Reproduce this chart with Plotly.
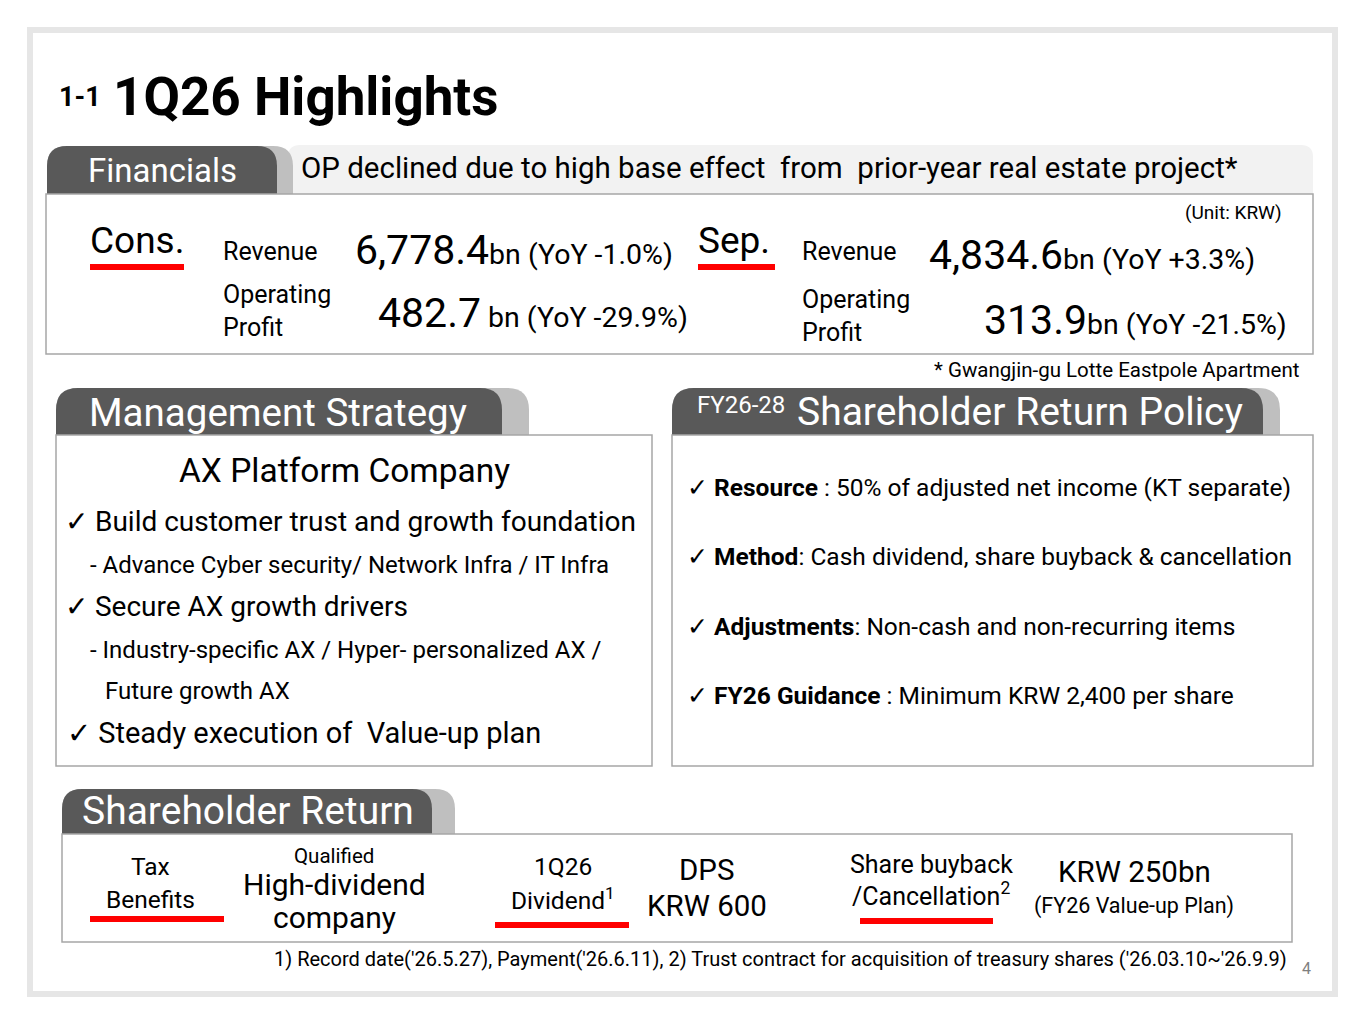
import plotly.graph_objects as go

# ---------------- data ----------------
segments = ["Cons.", "Sep."]
revenue_bn = [6778.4, 4834.6]
revenue_yoy = [-1.0, 3.3]
op_bn = [482.7, 313.9]
op_yoy = [-29.9, -21.5]
payout_pct = 50
guidance_krw = 2400
dps_krw = 600
buyback_bn = 250

strategy_items = ["Build customer trust and growth foundation",
                  "Secure AX growth drivers",
                  "Steady execution of  Value-up plan"]
policy_labels = ["Resource", "Method", "Adjustments", "FY26 Guidance"]
policy_texts = [f"{payout_pct}% of adjusted net income (KT separate)",
                "Cash dividend, share buyback & cancellation",
                "Non-cash and non-recurring items",
                f"Minimum KRW {guidance_krw:,} per share"]

FONT = "Roboto"
DARK = "#595959"
LIGHT = "#bfbfbf"
BANNER = "#f2f2f2"
BORDER = "#a6a6a6"
RED = "#ff0000"

fig = go.Figure()
fig.add_trace(go.Scatter(x=[], y=[], showlegend=False))

shapes = []
ann = []


def rect(x0, y0, x1, y1, fill=None, line=None, lw=1.5):
    shapes.append(dict(type="rect", xref="x", yref="y", x0=x0, x1=x1, y0=y0, y1=y1,
                       fillcolor=fill if fill else "rgba(0,0,0,0)",
                       line=dict(color=line if line else "rgba(0,0,0,0)", width=lw if line else 0),
                       layer="below"))


def tab(x0, x1, y0, y1, r, color):
    p = (f"M{x0},{y1} L{x0},{y0 + r} Q{x0},{y0} {x0 + r},{y0} L{x1 - r},{y0} "
         f"Q{x1},{y0} {x1},{y0 + r} L{x1},{y1} Z")
    shapes.append(dict(type="path", xref="x", yref="y", path=p, fillcolor=color,
                       line=dict(width=0), layer="below"))


def txt(x, y, s, size, anchor="left", color="#000000", family=FONT):
    ann.append(dict(x=x, y=y, xref="x", yref="y", text=s, showarrow=False,
                    xanchor=anchor, yanchor="middle", align=anchor if anchor != "center" else "center",
                    font=dict(size=size, color=color, family=family)))


# outer frame
shapes.append(dict(type="rect", xref="x", yref="y", x0=30, x1=1335, y0=30, y1=994,
                   line=dict(color="#e6e6e6", width=6), fillcolor="white", layer="below"))

# title
txt(57, 97, "<b>1-1</b>", 27)
txt(111, 97, "<b>1Q26 Highlights</b>", 53)

# ---------------- Financials ----------------
tab(288, 1313, 145, 194, 12, BANNER)
tab(47, 293, 146, 194, 20, LIGHT)
tab(47, 277, 146, 194, 20, DARK)
rect(46, 194, 1313, 354, fill="white", line=BORDER)
txt(162, 170, "Financials", 33, anchor="center", color="white")
txt(299, 168, "OP declined due to high base effect  from  prior-year real estate project*", 29.5)
txt(1284, 212, "(Unit: KRW)", 19, anchor="right")

# segment blocks
seg_x = [88, 696]
lab_x = [221, 800]
for i, seg in enumerate(segments):
    txt(seg_x[i], 240, seg, 37)
    shapes.append(dict(type="rect", xref="x", yref="y", x0=seg_x[i] + 2, x1=seg_x[i] + 96 - 17 * i,
                       y0=264, y1=270, fillcolor=RED, line=dict(width=0)))
    txt(lab_x[i], 251, "Revenue", 25)
    txt(lab_x[i], 311 + 5 * i, "Operating<br>Profit", 25)

rev0 = f"<span style='font-size:41px'>{revenue_bn[0]:,.1f}</span>bn (YoY {revenue_yoy[0]:.1f}%)"
rev1 = f"<span style='font-size:41px'>{revenue_bn[1]:,.1f}</span>bn (YoY {revenue_yoy[1]:+.1f}%)"
op0 = f"<span style='font-size:41px'>{op_bn[0]:,.1f}</span> bn (YoY {op_yoy[0]:.1f}%)"
op1 = f"<span style='font-size:41px'>{op_bn[1]:,.1f}</span>bn (YoY {op_yoy[1]:.1f}%)"
txt(353, 250, rev0, 28.5)
txt(927, 255, rev1, 28.5)
txt(376, 313, op0, 28.5)
txt(1289, 320, op1, 28.5, anchor="right")
txt(1301, 370, "* Gwangjin-gu Lotte Eastpole Apartment", 20.5, anchor="right")

# ---------------- Management Strategy ----------------
tab(56, 529, 388, 435, 22, LIGHT)
tab(56, 502, 388, 435, 22, DARK)
rect(56, 435, 652, 766, fill="white", line=BORDER)
txt(87, 412, "Management Strategy", 38.5, color="white")
txt(344, 470, "AX Platform Company", 33.5, anchor="center")
txt(63, 521, "✓ " + strategy_items[0], 28)
txt(88, 565, "- Advance Cyber security/ Network Infra / IT Infra", 24)
txt(63, 606, "✓ " + strategy_items[1], 28)
txt(88, 650, "- Industry-specific AX / Hyper- personalized AX /", 24)
txt(103, 691, "Future growth AX", 24)
txt(65, 733, "✓ " + strategy_items[2], 29)

# ---------------- Shareholder Return Policy ----------------
tab(672, 1280, 388, 435, 22, LIGHT)
tab(672, 1263, 388, 435, 22, DARK)
rect(672, 435, 1313, 766, fill="white", line=BORDER)
txt(695, 405, "FY26-28", 24, color="white")
txt(795, 412, "Shareholder Return Policy", 39, color="white")
policy_y = [487, 556, 626, 695]
for lab, t, y in zip(policy_labels, policy_texts, policy_y):
    sep = " : " if lab in ("Resource", "FY26 Guidance") else ": "
    txt(685, y, f"✓ <b>{lab}</b>{sep}{t}", 24.5)

# ---------------- Shareholder Return ----------------
tab(62, 455, 789, 834, 20, LIGHT)
tab(62, 432, 789, 834, 20, DARK)
rect(62, 834, 1292, 942, fill="white", line=BORDER)
txt(80, 811, "Shareholder Return", 39, color="white")

txt(150, 866, "Tax", 24.5, anchor="center")
txt(150, 899, "Benefits", 24.5, anchor="center")
txt(334, 856, "Qualified", 20.5, anchor="center")
txt(334, 884, "High-dividend", 30, anchor="center")
txt(334, 917, "company", 30, anchor="center")
txt(563, 866, "1Q26", 24.5, anchor="center")
txt(563, 899, "Dividend<sup>1</sup>", 24.5, anchor="center")
txt(707, 870, "DPS", 29.5, anchor="center")
txt(707, 906, f"KRW {dps_krw}", 29.5, anchor="center")
txt(931, 864, "Share buyback", 25, anchor="center")
txt(931, 894, "/Cancellation<sup>2</sup>", 25, anchor="center")
txt(1134, 872, f"KRW {buyback_bn}bn", 29.5, anchor="center")
txt(1134, 906, "(FY26 Value-up Plan)", 21.5, anchor="center")
for x0, x1, y0 in [(90, 224, 916), (495, 629, 922), (860, 993, 918)]:
    shapes.append(dict(type="rect", xref="x", yref="y", x0=x0, x1=x1, y0=y0, y1=y0 + 6,
                       fillcolor=RED, line=dict(width=0)))

txt(1289, 959, "1) Record date('26.5.27), Payment('26.6.11), 2) Trust contract for acquisition of treasury shares ('26.03.10~'26.9.9)", 20, anchor="right")
txt(1306, 968, "4", 16, anchor="center", color="#7f7f7f")

fig.update_layout(
    width=1365, height=1024,
    margin=dict(l=0, r=0, t=0, b=0),
    paper_bgcolor="white", plot_bgcolor="white",
    xaxis=dict(range=[0, 1365], visible=False, fixedrange=True),
    yaxis=dict(range=[1024, 0], visible=False, fixedrange=True),
    shapes=shapes, annotations=ann, showlegend=False,
    font=dict(family=FONT),
)

fig.write_html("out.html", config={"displayModeBar": False},
               post_script="document.body.style.margin='0';document.body.style.overflow='hidden';")
